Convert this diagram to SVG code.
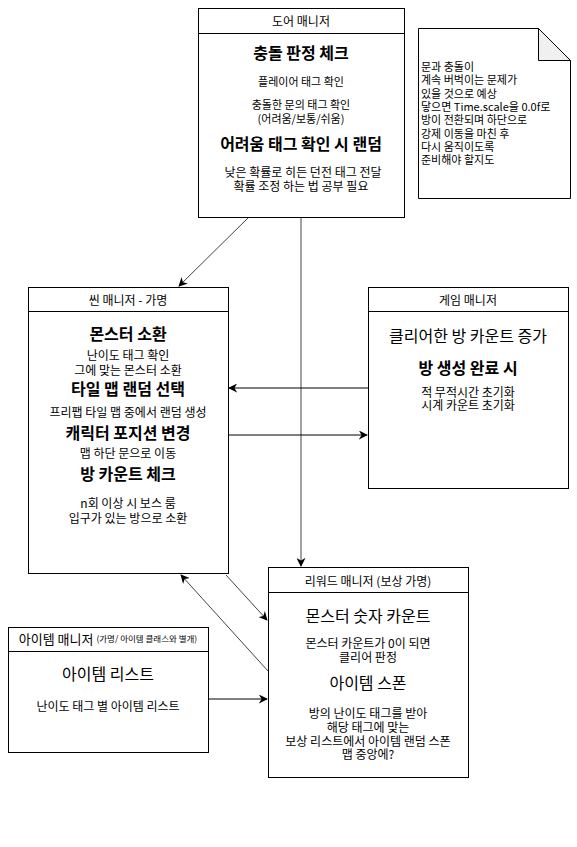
<svg xmlns="http://www.w3.org/2000/svg" width="577" height="847" viewBox="0 0 577 847">
<defs>
<style>
.box{fill:#fff;stroke:#000;stroke-width:1}
text{font-family:"Noto Sans CJK KR","Liberation Sans",sans-serif;fill:#000;text-anchor:middle;dominant-baseline:central}
.h{font-size:12px}
.t{font-size:16px;font-weight:bold}
.tr{font-size:16px}
.s{font-size:12px}
.s11{font-size:11px}
.note{font-size:11px;text-anchor:start}
.conn{stroke:#000;stroke-width:1;fill:none;marker-end:url(#arr)}
.gray{stroke:#444}
</style>
<marker id="arr" viewBox="0 0 10 10" refX="9" refY="5" markerWidth="9" markerHeight="9" markerUnits="userSpaceOnUse" orient="auto">
<path d="M0,0 L10,5 L0,10 L3,5 Z" fill="#000"/>
</marker>
</defs>
<rect width="577" height="847" fill="#fff"/>

<g id="connectors">
<line class="conn gray" x1="249" y1="217" x2="179" y2="286"/>
<line class="conn gray" x1="301" y1="217" x2="301" y2="566"/>
<line class="conn" x1="368" y1="388" x2="229" y2="388"/>
<line class="conn" x1="228" y1="435" x2="367" y2="435"/>
<line class="conn gray" x1="226" y1="575" x2="267" y2="620"/>
<line class="conn gray" x1="268" y1="671" x2="181" y2="575"/>
<line class="conn" x1="208" y1="699" x2="267" y2="699"/>
</g>

<g id="door-manager">
<rect class="box" x="198.5" y="8.5" width="206" height="209"/>
<line class="box" x1="198.5" y1="33.5" x2="404.5" y2="33.5"/>
<text class="h" x="301" y="20">도어 매니저</text>
<text class="t" x="301" y="52">충돌 판정 체크</text>
<text class="s11" x="301" y="81">플레이어 태그 확인</text>
<text class="s11" x="301" y="104"><tspan x="301">충돌한 문의 태그 확인</tspan><tspan x="301" dy="14">(어려움/보통/쉬움)</tspan></text>
<text class="t" x="301" y="143">어려움 태그 확인 시 랜덤</text>
<text class="s" x="303" y="171"><tspan x="303">낮은 확률로 히든 던전 태그 전달</tspan><tspan x="301" dy="14">확률 조정 하는 법 공부 필요</tspan></text>
</g>

<g id="note">
<path class="box" d="M418.5,28.5 H538.5 L570.5,60.5 V198.5 H418.5 Z"/>
<path d="M538.5,28.5 V60.5 H570.5 Z" fill="#f0f0f0" stroke="#000"/>
<text class="note" x="421" y="66"><tspan x="421">문과 충돌이</tspan><tspan x="421" dy="13.3">계속 버벅이는 문제가</tspan><tspan x="421" dy="13.3">있을 것으로 예상</tspan><tspan x="421" dy="13.3">닿으면 Time.scale을 0.0f로</tspan><tspan x="421" dy="13.3">방이 전환되며 하단으로</tspan><tspan x="421" dy="13.3">강제 이동을 마친 후</tspan><tspan x="421" dy="13.3">다시 움직이도록</tspan><tspan x="421" dy="13.3">준비해야 할지도</tspan></text>
</g>

<g id="scene-manager">
<rect class="box" x="28.5" y="287.5" width="200" height="286"/>
<line class="box" x1="28.5" y1="311.5" x2="228.5" y2="311.5"/>
<text class="h" x="128" y="299">씬 매니저 - 가명</text>
<text class="t" x="128" y="333">몬스터 소환</text>
<text class="s" x="128" y="354"><tspan x="128">난이도 태그 확인</tspan><tspan x="128" dy="15">그에 맞는 몬스터 소환</tspan></text>
<text class="t" x="128" y="388">타일 맵 랜덤 선택</text>
<text class="s" x="128" y="411">프리팹 타일 맵 중에서 랜덤 생성</text>
<text class="t" x="128" y="432">캐릭터 포지션 변경</text>
<text class="s" x="128" y="452">맵 하단 문으로 이동</text>
<text class="t" x="128" y="473">방 카운트 체크</text>
<text class="s" x="128" y="502"><tspan x="128">n회 이상 시 보스 룸</tspan><tspan x="128" dy="15">입구가 있는 방으로 소환</tspan></text>
</g>

<g id="game-manager">
<rect class="box" x="368.5" y="287.5" width="200" height="201"/>
<line class="box" x1="368.5" y1="311.5" x2="568.5" y2="311.5"/>
<text class="h" x="468" y="299">게임 매니저</text>
<text class="tr" x="468" y="335">클리어한 방 카운트 증가</text>
<text class="t" x="468" y="367">방 생성 완료 시</text>
<text class="s" x="468" y="391"><tspan x="468">적 무적시간 초기화</tspan><tspan x="468" dy="13">시계 카운트 초기화</tspan></text>
</g>

<g id="reward-manager">
<rect class="box" x="268.5" y="567.5" width="200" height="210"/>
<line class="box" x1="268.5" y1="592.5" x2="468.5" y2="592.5"/>
<text class="h" x="368" y="580">리워드 매니저 (보상 가명)</text>
<text class="tr" x="368" y="615">몬스터 숫자 카운트</text>
<text class="s" x="368" y="642"><tspan x="368">몬스터 카운트가 0이 되면</tspan><tspan x="368" dy="14">클리어 판정</tspan></text>
<text class="tr" x="368" y="682">아이템 스폰</text>
<text class="s" x="368" y="712"><tspan x="368">방의 난이도 태그를 받아</tspan><tspan x="368" dy="13.5">해당 태그에 맞는</tspan><tspan x="368" dy="14">보상 리스트에서 아이템 랜덤 스폰</tspan><tspan x="368" dy="13.5">맵 중앙에?</tspan></text>
</g>

<g id="item-manager">
<rect class="box" x="8.5" y="627.5" width="200" height="125"/>
<line class="box" x1="8.5" y1="651.5" x2="208.5" y2="651.5"/>
<text x="108" y="638"><tspan font-size="13px">아이템 매니저 </tspan><tspan font-size="8.5px">(가명/ 아이템 클래스와 별개)</tspan></text>
<text class="tr" x="108" y="673">아이템 리스트</text>
<text class="s" x="108" y="705">난이도 태그 별 아이템 리스트</text>
</g>
</svg>
